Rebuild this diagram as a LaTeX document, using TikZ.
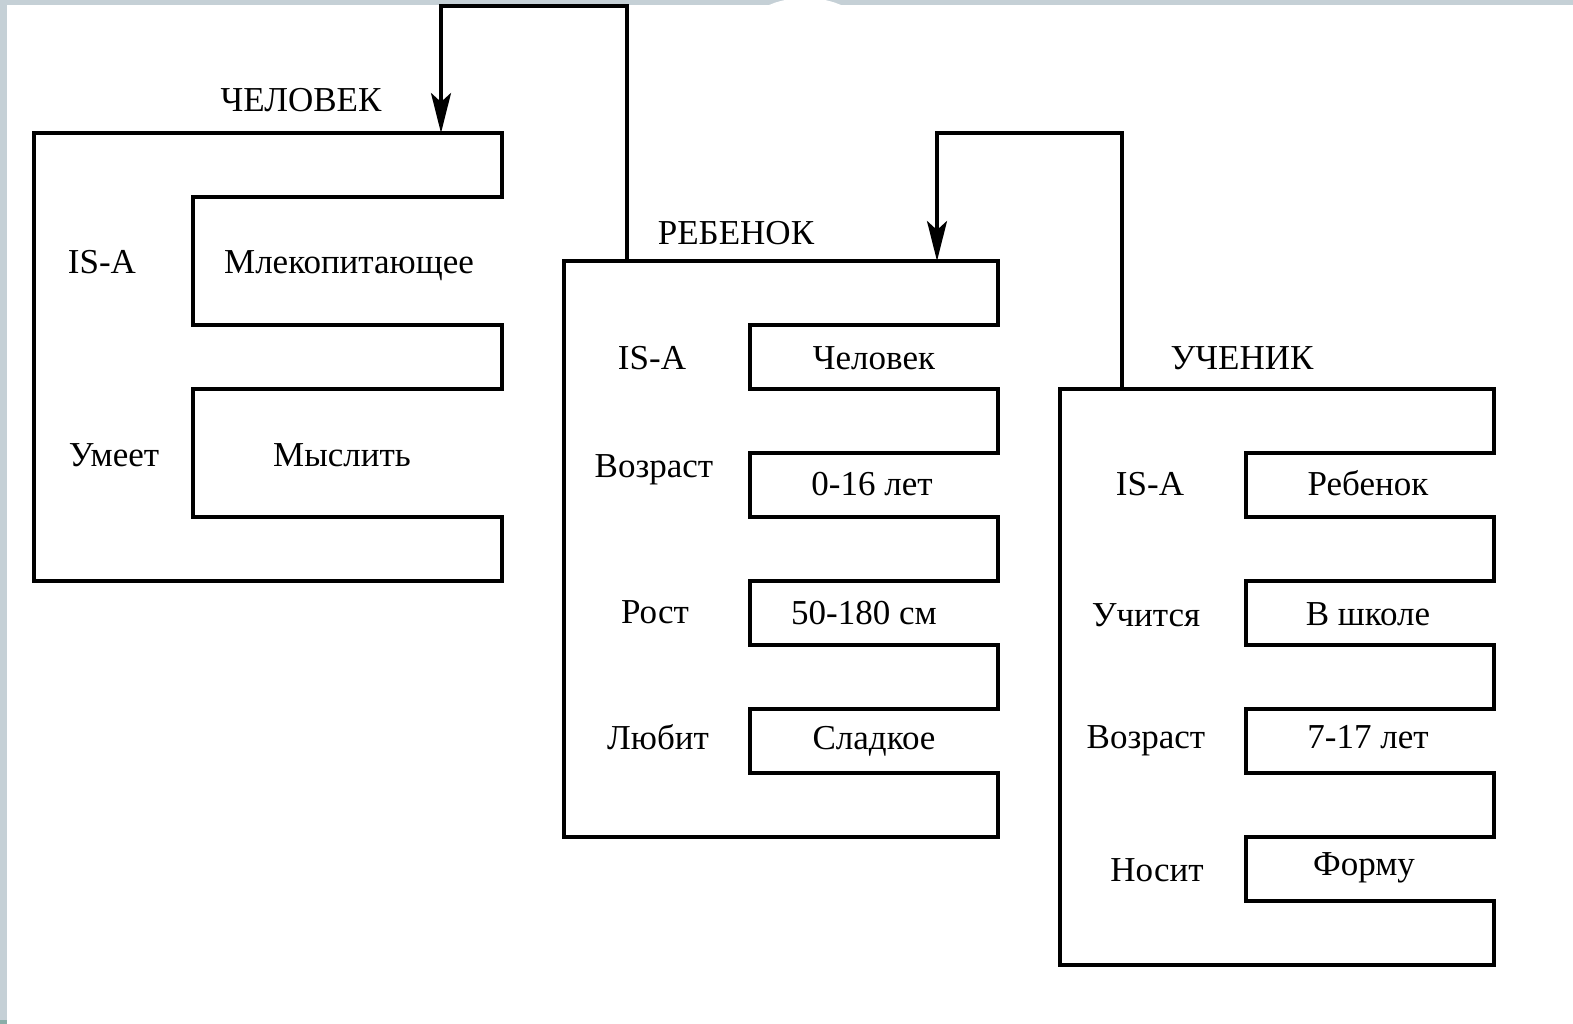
\documentclass[tikz,border=0pt]{standalone}
\usepackage{fontspec}
\setmainfont{Liberation Serif}
\usetikzlibrary{arrows.meta}
\newcommand\labfont{\fontsize{35}{42}\selectfont}
\begin{document}
\begin{tikzpicture}[x=1pt,y=-1pt,
  comb/.style={draw=black,line width=3.4pt,line join=miter},
  conn/.style={draw=black,line width=3.4pt},
  arr/.style={conn,-{Stealth[length=40pt,width=20pt,inset=9pt]}},
  lbl/.style={font=\labfont,anchor=base,inner sep=0pt,text=black}]
\useasboundingbox (0,0) rectangle (1573,1024);
\fill[white] (0,0) rectangle (1573,1024);
\fill[fill={rgb,255:red,197;green,208;blue,214}] (0,0) rectangle (1573,5);
\fill[fill={rgb,255:red,197;green,208;blue,214}] (0,0) rectangle (7,1024);
\fill[fill={rgb,255:red,138;green,173;blue,168}] (0,1020) rectangle (7,1024);
\fill[white] (805,40) ellipse [x radius=65, y radius=42];

% comb boxes
\draw[comb] (34,133) -- (502,133) -- (502,197) -- (193,197) -- (193,325) -- (502,325) -- (502,389) -- (193,389) -- (193,517) -- (502,517) -- (502,581) -- (34,581) -- cycle;
\draw[comb] (564,261) -- (998,261) -- (998,325) -- (750,325) -- (750,389) -- (998,389) -- (998,453) -- (750,453) -- (750,517) -- (998,517) -- (998,581) -- (750,581) -- (750,645) -- (998,645) -- (998,709) -- (750,709) -- (750,773) -- (998,773) -- (998,837) -- (564,837) -- cycle;
\draw[comb] (1060,389) -- (1494,389) -- (1494,453) -- (1246,453) -- (1246,517) -- (1494,517) -- (1494,581) -- (1246,581) -- (1246,645) -- (1494,645) -- (1494,709) -- (1246,709) -- (1246,773) -- (1494,773) -- (1494,837) -- (1246,837) -- (1246,901) -- (1494,901) -- (1494,965) -- (1060,965) -- cycle;

% connector ends
\coordinate (b1in) at (441,133);
\coordinate (b2out) at (627,261);
\coordinate (k1) at (441,6);
\coordinate (b2in) at (937,261);
\coordinate (b3out) at (1122,389);
\coordinate (k2) at (937,133);

\draw[arr] (b2out) |- (k1) -- (b1in);
\draw[arr] (b3out) |- (k2) -- (b2in);

% titles
\node[lbl] (t1) at (301,112) {ЧЕЛОВЕК};
\node[lbl] (t2) at (736,244) {РЕБЕНОК};
\node[lbl] (t3) at (1242,369) {УЧЕНИК};

% box 1
\node[lbl] (a11) at (102,273) {IS-A};
\node[lbl] (v11) at (349,273) {Млекопитающее};
\node[lbl] (a12) at (114,466) {Умеет};
\node[lbl] (v12) at (342,466) {Мыслить};

% box 2
\node[lbl] (a21) at (652,369) {IS-A};
\node[lbl] (v21) at (874,369) {Человек};
\node[lbl] (a22) at (654,477) {Возраст};
\node[lbl] (v22) at (872,495) {0-16 лет};
\node[lbl] (a23) at (655,623) {Рост};
\node[lbl] (v23) at (864,624) {50-180 см};
\node[lbl] (a24) at (658,749) {Любит};
\node[lbl] (v24) at (874,749) {Сладкое};

% box 3
\node[lbl] (a31) at (1150,495) {IS-A};
\node[lbl] (v31) at (1368,495) {Ребенок};
\node[lbl] (a32) at (1146,626) {Учится};
\node[lbl] (v32) at (1368,625) {В школе};
\node[lbl] (a33) at (1146,748) {Возраст};
\node[lbl] (v33) at (1368,748) {7-17 лет};
\node[lbl] (a34) at (1157,881) {Носит};
\node[lbl] (v34) at (1364,875) {Форму};
\end{tikzpicture}
\end{document}
